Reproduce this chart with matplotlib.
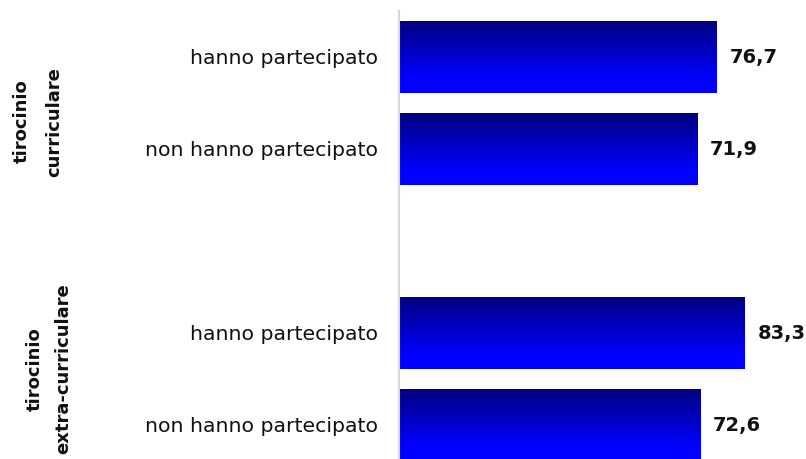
import numpy as np
import matplotlib
matplotlib.use("Agg")
import matplotlib.pyplot as plt
from matplotlib.colors import LinearSegmentedColormap

# ---- data ----
group_lines = [["tirocinio", "curriculare"], ["tirocinio", "extra-curriculare"]]
bar_labels = ["hanno partecipato", "non hanno partecipato",
              "hanno partecipato", "non hanno partecipato"]
values = [76.7, 71.9, 83.3, 72.6]
group_of_bar = [0, 0, 1, 1]

# ---- layout ----
W, H = 806, 459
fig = plt.figure(figsize=(W / 100, H / 100), dpi=100)
fig.patch.set_facecolor("white")
ax = fig.add_axes([399 / W, 1 - 471 / H, 1 - 399 / W, 460 / H])

# slots: each group gets 2 bars, with an empty slot between groups
positions = [i + group_of_bar[i] for i in range(len(values))]
bar_h = 0.78
bars = ax.barh(positions, values, height=bar_h, color="none", edgecolor="none")

# gradient fill for each bar: navy at top -> bright blue at bottom
t = np.linspace(0, 1, 256)
blue = 0.5 + 0.5 * np.clip(t / 0.8, 0, 1)
grad = np.zeros((256, 1, 3))
grad[:, 0, 2] = blue
for b in bars:
    x0, y0 = b.get_x(), b.get_y()
    w, h = b.get_width(), b.get_height()
    ax.imshow(grad, extent=(x0, x0 + w, y0 + h, y0), aspect="auto",
              interpolation="bilinear", zorder=2)

xmax = (W - 399) / ((717 - 399) / 76.7)
ax.set_xlim(0, xmax)
ax.set_ylim(4.5, -0.5)

# value labels
for p, v in zip(positions, values):
    ax.text(v + 13 / ((717 - 399) / 76.7), p, f"{v:.1f}".replace(".", ","),
            va="center", ha="left", fontsize=14, fontweight="bold",
            color="#111111", family="DejaVu Sans")

ax.set_yticks(positions)
ax.set_yticklabels(bar_labels, fontsize=14.7, color="#111111", family="DejaVu Sans")
ax.tick_params(axis="y", length=0, pad=15)
ax.set_xticks([])
for s in ["top", "right", "bottom"]:
    ax.spines[s].set_visible(False)
ax.spines["left"].set_color("#d9d9d9")
ax.spines["left"].set_linewidth(1.5)

# group labels (rotated, two lines each)
group_line_pos = [
    [(22, 121.5), (54.5, 122.5)],
    [(35, 369), (63, 369)],
]
for lines, poss in zip(group_lines, group_line_pos):
    for txt, (x, y) in zip(lines, poss):
        fig.text(x / W, 1 - y / H, txt, rotation=90, ha="center", va="center",
                 fontsize=13, fontweight="bold", color="#111111",
                 family="DejaVu Sans")

fig.savefig("out.png", dpi=100, facecolor="white")
